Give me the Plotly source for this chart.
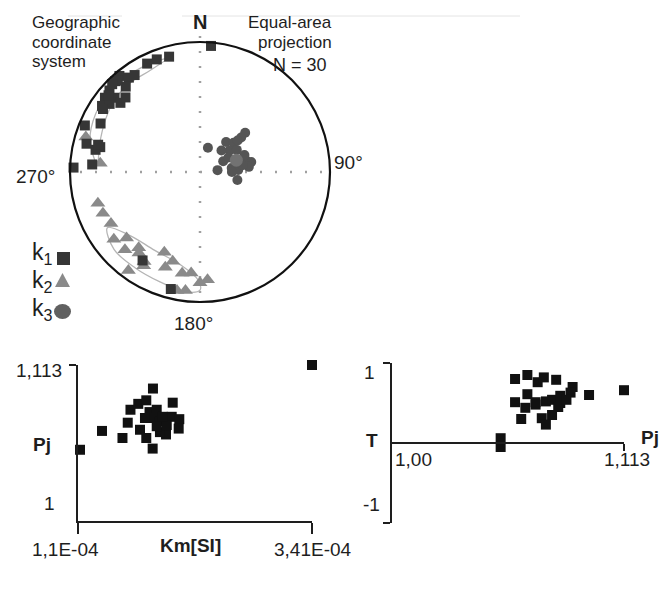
import numpy as np
import plotly.graph_objects as go

W, H = 660, 592

# ---------------- stereonet data (declination, inclination, degrees) ----------------
k1_dec = [5, 345, 339, 334, 320, 323, 317, 319, 312, 308, 311, 311, 304, 307, 292,
          296, 284, 284, 282, 274, 272, 213, 194, 318, 310, 303, 285, 315, 315, 326]
k1_inc = [3, 9, 8, 8, 4, 10, 5, 14, 7, 8, 14, 20, 10, 14, 5,
          16, 11, 22, 19, 18, 3, 20, 8, 6, 9, 12, 20, 5, 20, 11]

k2_dec = [253, 247, 240, 232, 228, 224, 219, 211, 216, 204, 197, 200, 190, 185, 180,
          176, 191, 187, 275, 217, 212, 287]
k2_inc = [19, 20, 22, 17, 25, 18, 26, 17, 7, 33, 29, 23, 22, 23, 16,
          18, 8, 9, 24, 23, 20, 9]

k3_dec = [18, 49, 50, 41, 49, 50, 54, 59, 65, 76, 79, 84, 83, 84, 87, 102, 81, 63, 69, 90, 45]
k3_inc = [74, 52, 56, 65, 62, 59, 67, 63, 74, 60, 57, 59, 70, 79, 66, 66, 63, 70, 60, 70, 71]
k3_mean_dec = [72]
k3_mean_inc = [66]

# confidence ellipses (outline points)
k1_ell_dec = [274, 286, 299, 311, 321, 334, 344, 334, 322, 310, 299, 285, 274]
k1_ell_inc = [22, 13, 9, 8, 8, 9, 10, 14, 14, 15, 18, 21, 22]
k2_ell_dec = [239, 228, 210, 192, 181, 180, 187, 200, 214, 228, 239]
k2_ell_inc = [18, 28, 31, 28, 18, 10, 8, 11, 12, 12, 18]

# ---------------- Pj vs Km ----------------
km = [1.12e-4, 1.337e-4, 1.539e-4, 1.591e-4, 1.712e-4, 1.774e-4, 1.837e-4, 1.840e-4,
      1.618e-4, 1.695e-4, 1.774e-4, 2.035e-4, 1.806e-4, 1.877e-4, 1.843e-4, 1.909e-4,
      2.025e-4, 2.100e-4, 2.094e-4, 1.969e-4, 1.909e-4, 1.877e-4, 1.976e-4, 1.936e-4,
      3.41e-4, 1.761e-4]
pj_km = [1.041, 1.057, 1.051, 1.064, 1.058, 1.051, 1.042, 1.093,
         1.075, 1.080, 1.083, 1.081, 1.073, 1.075, 1.068, 1.065,
         1.069, 1.067, 1.059, 1.054, 1.056, 1.061, 1.062, 1.069,
         1.113, 1.068]

# ---------------- T vs Pj ----------------
pj_t = [1.060, 1.066, 1.071, 1.074, 1.080, 1.088, 1.087, 1.096, 1.113, 1.066, 1.060,
        1.065, 1.070, 1.075, 1.078, 1.082, 1.082, 1.081, 1.078, 1.073, 1.075, 1.063,
        1.070, 1.085, 1.053, 1.053]
t_val = [0.80, 0.85, 0.76, 0.82, 0.79, 0.70, 0.63, 0.60, 0.66, 0.61, 0.51,
         0.44, 0.51, 0.52, 0.54, 0.59, 0.50, 0.45, 0.35, 0.31, 0.23, 0.30,
         0.48, 0.54, 0.06, -0.05]

# tick labels
km_ticks = [1.1e-4, 3.41e-4]
km_ticktext = ["1,1E-04", "3,41E-04"]
pj_ticks = [1.0, 1.113]
pj_ticktext = ["1", "1,113"]
t_ticks = [-1, 1]


def eqarea(inc):
    inc = np.asarray(inc, float)
    return np.sqrt(2) * np.sin(np.radians(90 - inc) / 2)


def px(x):
    return x / W


def py(y):
    return 1 - y / H


FONT = "Liberation Sans, Arial, sans-serif"
TXT = "#1e1e1e"

fig = go.Figure()

# ellipses
for d, i in [(k1_ell_dec, k1_ell_inc), (k2_ell_dec, k2_ell_inc)]:
    fig.add_trace(go.Scatterpolar(r=eqarea(i), theta=d, mode="lines",
                                  line=dict(color="#b5b5b5", width=1.3, shape="spline"),
                                  hoverinfo="skip", showlegend=False))
fig.add_trace(go.Scatterpolar(r=eqarea(k2_inc), theta=k2_dec, mode="markers",
                              marker=dict(symbol="triangle-up", size=13, color="#8a8a8a"),
                              showlegend=False, name="k2"))
fig.add_trace(go.Scatterpolar(r=eqarea(k1_inc), theta=k1_dec, mode="markers",
                              marker=dict(symbol="square", size=10, color="#363636"),
                              showlegend=False, name="k1"))
fig.add_trace(go.Scatterpolar(r=eqarea(k3_inc), theta=k3_dec, mode="markers",
                              marker=dict(symbol="circle", size=10, color="#555555"),
                              showlegend=False, name="k3"))
fig.add_trace(go.Scatterpolar(r=eqarea(k3_mean_inc), theta=k3_mean_dec, mode="markers",
                              marker=dict(symbol="circle", size=13, color="#727272"),
                              showlegend=False, name="k3 mean"))

# scatter plots
fig.add_trace(go.Scatter(x=km, y=pj_km, mode="markers", xaxis="x", yaxis="y",
                         marker=dict(symbol="square", size=10, color="#111111"),
                         cliponaxis=False, showlegend=False))
fig.add_trace(go.Scatter(x=pj_t, y=t_val, mode="markers", xaxis="x2", yaxis="y2",
                         marker=dict(symbol="square", size=10, color="#111111"),
                         cliponaxis=False, showlegend=False))

ax_common = dict(showgrid=False, zeroline=False, showline=True, linecolor="#1e1e1e",
                 linewidth=2, ticks="outside", tickcolor="#1e1e1e", tickwidth=2,
                 showticklabels=False, fixedrange=True)

shapes = []
dotted = dict(color="#a0a0a0", width=2.5, dash="2px,13px")
shapes.append(dict(type="line", xref="paper", yref="paper", x0=px(200), x1=px(200),
                   y0=py(36), y1=py(296), line=dotted, layer="below"))
shapes.append(dict(type="line", xref="paper", yref="paper", x0=px(80), x1=px(326),
                   y0=py(172), y1=py(172), line=dotted, layer="below"))
faint = dict(color="#e4e4e4", width=1)
shapes.append(dict(type="line", xref="paper", yref="paper", x0=px(68), x1=px(122),
                   y0=py(16), y1=py(16), line=faint))
shapes.append(dict(type="line", xref="paper", yref="paper", x0=px(182), x1=px(520),
                   y0=py(16), y1=py(16), line=faint))
# legend keys
shapes.append(dict(type="rect", xref="paper", yref="paper", x0=px(57), x1=px(70),
                   y0=py(265), y1=py(252), fillcolor="#363636", line=dict(width=0)))
shapes.append(dict(type="path", xref="paper", yref="paper",
                   path=f"M {px(55)},{py(287)} L {px(70)},{py(287)} L {px(62.5)},{py(273)} Z",
                   fillcolor="#8a8a8a", line=dict(width=0)))
shapes.append(dict(type="circle", xref="paper", yref="paper", x0=px(54), x1=px(71),
                   y0=py(319), y1=py(304), fillcolor="#606060", line=dict(width=0)))

annotations = []


def ann(text, x, y, size, xanchor="center", bold=False):
    if bold:
        text = f"<b>{text}</b>"
    annotations.append(dict(text=text, x=px(x), y=py(y), xref="paper", yref="paper",
                            xanchor=xanchor, yanchor="middle", showarrow=False,
                            font=dict(family=FONT, size=size, color=TXT)))


ann("Geographic", 30, 22, 17, "left")
ann("coordinate", 30, 42, 17, "left")
ann("system", 30, 62, 17, "left")
ann("Equal-area", 334, 22, 17, "right")
ann("projection", 334, 42, 17, "right")
ann("N = 30", 329, 65, 18, "right")
ann("N", 200, 22, 20, bold=True)
ann("270°", 35, 176, 19)
ann("90°", 332, 162, 19, "left")
ann("180°", 193, 323, 19)
ann("k<sub>1</sub>", 30, 253, 23, "left")
ann("k<sub>2</sub>", 30, 281, 23, "left")
ann("k<sub>3</sub>", 30, 309, 23, "left")

# left scatter labels
ann(pj_ticktext[1], 64, 370, 19, "right")
ann(pj_ticktext[0], 57, 503, 19, "right")
ann("Pj", 42, 444, 19, bold=True)
ann(km_ticktext[0], 65, 549, 19)
ann(km_ticktext[1], 313, 549, 19)
ann("Km[SI]", 190, 545, 19, bold=True)

# right scatter labels
ann("1", 369, 372, 19)
ann("-1", 371, 504, 19)
ann("T", 372, 440, 19, bold=True)
ann("1,00", 413, 460, 19)
ann("1,113", 627, 460, 19)
ann("Pj", 639, 437, 19, "left", bold=True)

fig.update_layout(
    width=W, height=H, margin=dict(l=0, r=0, t=0, b=0),
    paper_bgcolor="white", plot_bgcolor="rgba(0,0,0,0)",
    showlegend=False,
    polar=dict(
        domain=dict(x=[px(70), px(330)], y=[py(302), py(42)]),
        bgcolor="rgba(0,0,0,0)",
        radialaxis=dict(visible=False, range=[0, 1]),
        angularaxis=dict(rotation=90, direction="clockwise", showline=True,
                         linecolor="#111111", linewidth=2.2, showgrid=False,
                         showticklabels=False, ticks=""),
    ),
    xaxis=dict(domain=[px(78), px(312)], anchor="y", range=km_ticks,
               tickvals=km_ticks, ticklen=11, **ax_common),
    yaxis=dict(domain=[py(521), py(365)], anchor="x", range=[0.9805, 1.113],
               tickvals=[pj_ticks[1]], ticklen=7, **ax_common),
    xaxis2=dict(domain=[px(391.7), px(624)], anchor="free", position=py(443.3),
                range=[1.0, 1.113], tickvals=[pj_ticks[1]], ticklen=7, **ax_common),
    yaxis2=dict(domain=[py(523), py(363)], anchor="x2", range=[-1, 1],
                tickvals=t_ticks, ticklen=7, **ax_common),
    shapes=shapes,
    annotations=annotations,
)

fig.write_html("out.html")
